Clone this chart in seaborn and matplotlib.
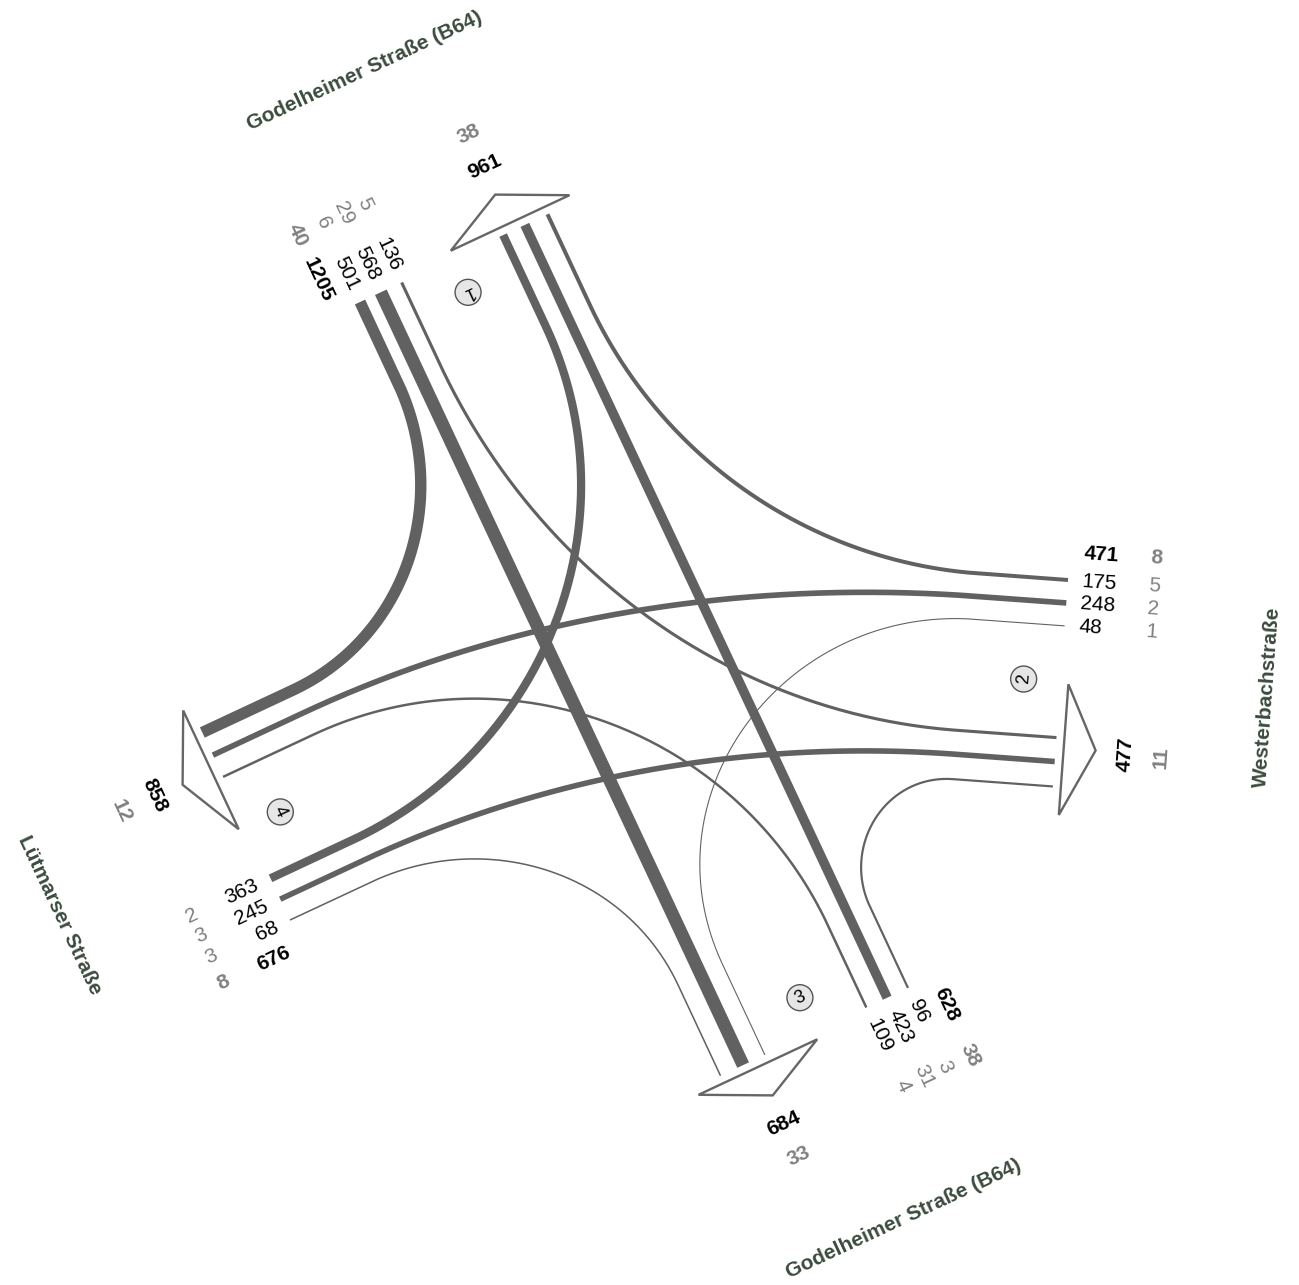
import numpy as np
import matplotlib
matplotlib.use("Agg")
import matplotlib.pyplot as plt
import seaborn as sns
from matplotlib.patches import Polygon, Circle

# ---------------- data ----------------
arm_names = ["Godelheimer Straße (B64)", "Westerbachstraße",
             "Godelheimer Straße (B64)", "Lütmarser Straße"]
arm_ids = ["1", "2", "3", "4"]
# lane flows per arm, order: right turn, straight, left turn
lane_flows = [[501, 568, 136], [175, 248, 48], [96, 423, 109], [68, 245, 363]]
in_totals = [1205, 471, 628, 676]
lane_heavy = [[6, 29, 5], [5, 2, 1], [3, 31, 4], [3, 3, 2]]
in_heavy_totals = [40, 8, 38, 8]
out_totals = [961, 477, 684, 858]
out_heavy = [38, 11, 33, 12]

# ---------------- layout (pixel frame) ----------------
ARM_ORIGIN = [(360, 302), (1068, 580), (908, 988), (290, 920)]
ARM_DIR = [(0.4236, 0.9058), (-0.997, -0.073), (-0.4236, -0.9058), (0.9058, -0.4236)]
LANE_PERP = [0, 23, 46]
OUT_PERP = [158, 182, 207]
TOTAL_PERP = -28
ROW1_AX, ROW2_AX = -14, -87
OUT1_AX, OUT2_AX, OUT_LBL_PERP = -70, -106, 170
CIRCLE_POS = (37, 102)
TITLE_POS = (-207, 102)
TRI = [(-8, 104), (-40, 168), (-8, 235)]
L_IN, L_OUT = 90, 100

LINE_C = "#616161"
GRAY_T = "#808080"
TITLE_C = "#3b4b3d"
FS = 15

O = [np.array(o, float) for o in ARM_ORIGIN]
D = [np.array(d, float) / np.linalg.norm(d) for d in ARM_DIR]
P = [np.array([d[1], -d[0]]) for d in D]


def loc(i, a, pp):
    return O[i] + a * D[i] + pp * P[i]


def rot(v):
    return np.degrees(np.arctan2(-v[1], v[0]))


def readable(r):
    while r > 90:
        r -= 180
    while r <= -90:
        r += 180
    return r


def flow_path(S, din, E, dout, n=160):
    P1 = S + L_IN * din
    P2 = E - L_OUT * dout
    c = np.linalg.norm(P2 - P1)
    th = np.arccos(np.clip(np.dot(din, dout), -1, 1))
    if th < 1e-3:
        k = c / 3
    else:
        R = c / (2 * np.sin(th / 2))
        k = 4 / 3 * np.tan(th / 4) * R
    C1 = P1 + k * din
    C2 = P2 - k * dout
    t = np.linspace(0, 1, n)[:, None]
    B = (1 - t) ** 3 * P1 + 3 * (1 - t) ** 2 * t * C1 + 3 * (1 - t) * t ** 2 * C2 + t ** 3 * P2
    return np.vstack([S, B, E])


sns.set_theme(style="white")
plt.rcParams["font.family"] = ["Liberation Sans", "DejaVu Sans"]

fig = plt.figure(figsize=(12.99, 12.85), dpi=100)
ax = fig.add_axes([0, 0, 1, 1])
ax.set_xlim(0, 1299)
ax.set_ylim(1285, 0)
ax.axis("off")

# ---------------- flows ----------------
targets = [(-1, 2), (2, 1), (1, 0)]  # (arm offset, out slot) for right, straight, left
for i in range(4):
    for lane, (off, slot) in enumerate(targets):
        j = (i + off) % 4
        S = loc(i, 0, LANE_PERP[lane])
        E = loc(j, 0, OUT_PERP[slot])
        pts = flow_path(S, D[i], E, -D[j])
        lw = lane_flows[i][lane] / 44.0 * 0.72
        sns.lineplot(x=pts[:, 0], y=pts[:, 1], sort=False, estimator=None,
                     color=LINE_C, linewidth=lw, ax=ax, solid_capstyle="butt",
                     solid_joinstyle="round")

# ---------------- arm furniture ----------------
for i in range(4):
    d, p = D[i], P[i]
    # outflow triangle
    tri = [loc(i, a, pp) for a, pp in TRI]
    ax.add_patch(Polygon(tri, closed=True, facecolor="white", edgecolor="#666666",
                         linewidth=1.7, zorder=3))
    # lane labels
    r = rot(-d)
    if -90 < r <= 90:
        ha = "left"
    else:
        r = readable(r)
        ha = "right"
    perps = [TOTAL_PERP] + LANE_PERP
    vals = [in_totals[i]] + lane_flows[i]
    for k, (pp, v) in enumerate(zip(perps, vals)):
        x, y = loc(i, ROW1_AX, pp)
        ax.text(x, y, str(v), rotation=r, rotation_mode="anchor", ha=ha, va="center",
                fontsize=FS, fontweight="bold" if k == 0 else "normal", color="black", zorder=5)
    hvals = [in_heavy_totals[i]] + lane_heavy[i]
    for k, (pp, v) in enumerate(zip(perps, hvals)):
        x, y = loc(i, ROW2_AX, pp)
        ax.text(x, y, str(v), rotation=r, rotation_mode="anchor", ha="center", va="center",
                fontsize=FS, fontweight="bold" if k == 0 else "normal", color=GRAY_T, zorder=5)
    # outflow labels
    rp = readable(rot(p))
    x, y = loc(i, OUT1_AX, OUT_LBL_PERP)
    ax.text(x, y, str(out_totals[i]), rotation=rp, rotation_mode="anchor", ha="center",
            va="center", fontsize=FS, fontweight="bold", color="black", zorder=5)
    x, y = loc(i, OUT2_AX, OUT_LBL_PERP)
    ax.text(x, y, str(out_heavy[i]), rotation=rp, rotation_mode="anchor", ha="center",
            va="center", fontsize=FS, fontweight="bold", color=GRAY_T, zorder=5)
    # arm number circle
    cx, cy = loc(i, *CIRCLE_POS)
    ax.add_patch(Circle((cx, cy), 13, facecolor="#e6e6e6", edgecolor="#555555",
                        linewidth=1.0, zorder=4))
    ax.text(cx, cy, arm_ids[i], rotation=rot(d) - 90, rotation_mode="anchor",
            ha="center", va="center", fontsize=13, color="black", zorder=5)
    # street name
    x, y = loc(i, *TITLE_POS)
    ax.text(x, y, arm_names[i], rotation=rp, rotation_mode="anchor", ha="center",
            va="center", fontsize=15, fontweight="bold", color=TITLE_C, zorder=5)

fig.savefig("out.png", dpi=100, facecolor="white")
